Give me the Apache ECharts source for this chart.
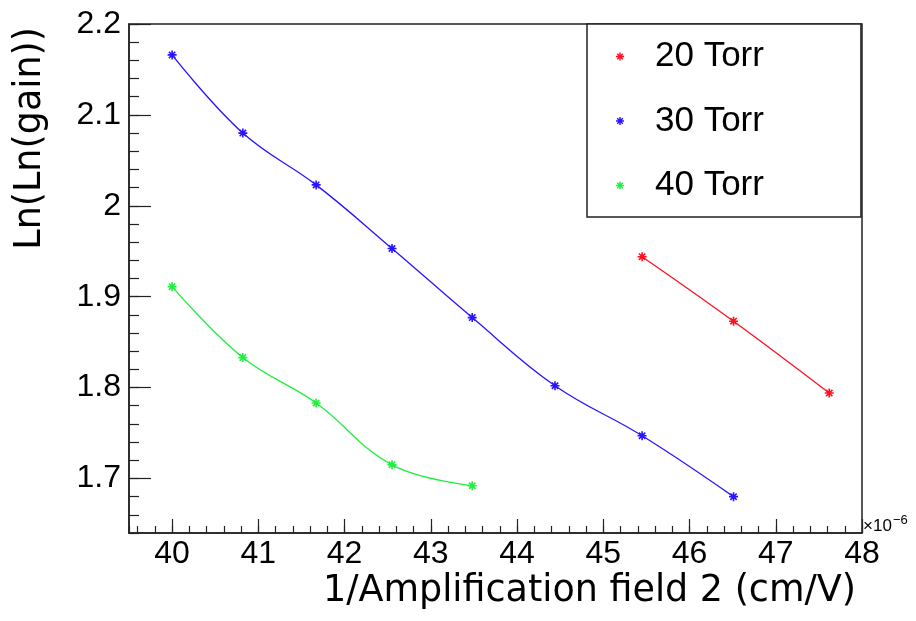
<!DOCTYPE html>
<html><head><meta charset="utf-8">
<script src="https://cdn.jsdelivr.net/npm/echarts@6/dist/echarts.min.js"></script>
<style>html,body{margin:0;padding:0;background:#fff}#c{width:916px;height:621px}</style>
</head><body><div id="c"></div>
<script>
const seriesNames = ['20 Torr', '30 Torr', '40 Torr'];
const seriesColors = ['#ff1020', '#2a14ff', '#20ee40'];
const x20 = [45.45, 46.51, 47.62];
const y20 = [1.944, 1.873, 1.794];
const x30 = [40.00, 40.82, 41.67, 42.55, 43.48, 44.44, 45.45, 46.51];
const y30 = [2.166, 2.080, 2.023, 1.953, 1.877, 1.802, 1.747, 1.680];
const x40 = [40.00, 40.82, 41.67, 42.55, 43.48];
const y40 = [1.911, 1.833, 1.783, 1.715, 1.692];
const xTitle = '1/Amplification field 2 (cm/V)';
const yTitle = 'Ln(Ln(gain))';
const xExponentBase = '×10';
const xExponentPow = '−6';
const xRange = [39.5, 48];
const yRange = [1.64, 2.2];

const FONT = "'Liberation Sans', Arial, Helvetica, sans-serif";
const STAR = 'path://M-0.9,-5L0.9,-5L0.9,5L-0.9,5Z M-5,-0.9L5,-0.9L5,0.9L-5,0.9Z M-4.17,-2.9L-2.9,-4.17L4.17,2.9L2.9,4.17Z M2.9,-4.17L4.17,-2.9L-2.9,4.17L-4.17,2.9Z';
const AX = '#222';

function zip(xs, ys) { return xs.map((x, i) => [x, ys[i]]); }
const allData = [zip(x20, y20), zip(x30, y30), zip(x40, y40)];

const chart = echarts.init(document.getElementById('c'), null, {renderer: 'canvas'});
chart.setOption({
  animation: false,
  backgroundColor: '#fff',
  textStyle: {fontFamily: FONT},
  grid: {left: 129, right: 54, top: 24, bottom: 88, show: true, borderColor: AX, borderWidth: 1.5,
    backgroundColor: 'transparent', containLabel: false, outerBoundsMode: 'none'},
  legend: {
    orient: 'vertical', left: 587, top: 24,
    padding: [15, 97, 14, 29],
    itemWidth: 8, itemHeight: 8, itemGap: 29.5,
    icon: STAR,
    borderColor: AX, borderWidth: 1.5,
    backgroundColor: '#fff',
    textStyle: {fontSize: 35, lineHeight: 34, color: '#000', fontFamily: FONT, padding: [0, 0, 0, 26]},
    data: seriesNames
  },
  graphic: [
    {type: 'text', x: 856, y: 591.5, z: 10,
      style: {text: xTitle, font: "36.5px 'DejaVu Sans', sans-serif", fill: '#000', align: 'right', verticalAlign: 'middle'}},
    {type: 'text', x: 30.5, y: 27, rotation: Math.PI / 2, z: 10,
      style: {text: yTitle, font: "36.5px 'DejaVu Sans', sans-serif", fill: '#000', align: 'right', verticalAlign: 'middle'}},
    {type: 'text', x: 863, y: 535, z: 10,
      style: {text: xExponentBase, font: "17px 'Liberation Sans', Arial, sans-serif", fill: '#000', align: 'left', verticalAlign: 'bottom'}},
    {type: 'text', x: 893, y: 527, z: 10,
      style: {text: xExponentPow, font: "13px 'Liberation Sans', Arial, sans-serif", fill: '#000', align: 'left', verticalAlign: 'bottom'}}
  ],
  xAxis: [{
    type: 'value', min: xRange[0], max: xRange[1], splitNumber: 8,
    axisLine: {show: true, lineStyle: {color: AX, width: 1.5}},
    axisTick: {show: true, inside: true, length: 14, lineStyle: {color: AX, width: 1.2}},
    axisLabel: {fontSize: 32, color: '#000', margin: 5, showMinLabel: false, showMaxLabel: true, fontFamily: FONT},
    splitLine: {show: false}
  }, {
    type: 'value', min: xRange[0], max: xRange[1], splitNumber: 42, position: 'bottom',
    axisLine: {show: false},
    axisTick: {show: true, inside: true, length: 7, lineStyle: {color: AX, width: 1.2}},
    axisLabel: {show: false},
    splitLine: {show: false}
  }],
  yAxis: [{
    type: 'value', min: yRange[0], max: yRange[1], splitNumber: 5, position: 'left',
    axisLine: {show: true, lineStyle: {color: AX, width: 1.5}},
    axisTick: {show: true, inside: true, length: 22, lineStyle: {color: AX, width: 1.2}},
    axisLabel: {fontSize: 32, color: '#000', margin: 8, showMinLabel: false, showMaxLabel: true, fontFamily: FONT},
    splitLine: {show: false}
  }, {
    type: 'value', min: yRange[0], max: yRange[1], splitNumber: 28, position: 'left', offset: 0,
    axisLine: {show: false},
    axisTick: {show: true, inside: true, length: 10, lineStyle: {color: AX, width: 1.2}},
    axisLabel: {show: false},
    splitLine: {show: false}
  }],
  series: seriesNames.map((n, i) => ({
    name: n, type: 'line', xAxisIndex: 0, yAxisIndex: 0,
    data: allData[i], smooth: 0.4,
    symbol: STAR, symbolSize: 9, showSymbol: true,
    lineStyle: {color: seriesColors[i], width: 1.3},
    itemStyle: {color: seriesColors[i]},
    z: 3
  }))
});
</script></body></html>
